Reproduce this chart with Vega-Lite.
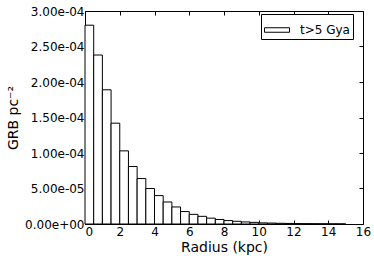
{
  "$schema": "https://vega.github.io/schema/vega-lite/v6.json",
  "width": 278,
  "height": 213,
  "autosize": {"type": "none"},
  "padding": {"left": 85, "top": 11, "right": 11, "bottom": 36},
  "background": "white",
  "config": {
    "view": {"stroke": "black", "strokeWidth": 1},
    "font": "DejaVu Sans",
    "axis": {
      "grid": false,
      "domain": false,
      "tickColor": "black",
      "tickSize": -4,
      "tickWidth": 1,
      "labelColor": "black",
      "labelFont": "DejaVu Sans",
      "labelFontSize": 12,
      "titleFont": "DejaVu Sans",
      "titleFontSize": 14,
      "titleFontWeight": "normal",
      "titleColor": "black"
    }
  },
  "data": {
    "values": [
      {"r0": 0.0, "r1": 0.5, "v": 2.80e-4, "series": "t>5 Gya"},
      {"r0": 0.5, "r1": 1.0, "v": 2.38e-4, "series": "t>5 Gya"},
      {"r0": 1.0, "r1": 1.5, "v": 1.89e-4, "series": "t>5 Gya"},
      {"r0": 1.5, "r1": 2.0, "v": 1.42e-4, "series": "t>5 Gya"},
      {"r0": 2.0, "r1": 2.5, "v": 1.03e-4, "series": "t>5 Gya"},
      {"r0": 2.5, "r1": 3.0, "v": 0.81e-4, "series": "t>5 Gya"},
      {"r0": 3.0, "r1": 3.5, "v": 0.64e-4, "series": "t>5 Gya"},
      {"r0": 3.5, "r1": 4.0, "v": 0.50e-4, "series": "t>5 Gya"},
      {"r0": 4.0, "r1": 4.5, "v": 0.40e-4, "series": "t>5 Gya"},
      {"r0": 4.5, "r1": 5.0, "v": 0.31e-4, "series": "t>5 Gya"},
      {"r0": 5.0, "r1": 5.5, "v": 0.24e-4, "series": "t>5 Gya"},
      {"r0": 5.5, "r1": 6.0, "v": 0.175e-4, "series": "t>5 Gya"},
      {"r0": 6.0, "r1": 6.5, "v": 0.136e-4, "series": "t>5 Gya"},
      {"r0": 6.5, "r1": 7.0, "v": 0.108e-4, "series": "t>5 Gya"},
      {"r0": 7.0, "r1": 7.5, "v": 0.082e-4, "series": "t>5 Gya"},
      {"r0": 7.5, "r1": 8.0, "v": 0.064e-4, "series": "t>5 Gya"},
      {"r0": 8.0, "r1": 8.5, "v": 0.048e-4, "series": "t>5 Gya"},
      {"r0": 8.5, "r1": 9.0, "v": 0.038e-4, "series": "t>5 Gya"},
      {"r0": 9.0, "r1": 9.5, "v": 0.029e-4, "series": "t>5 Gya"},
      {"r0": 9.5, "r1": 10.0, "v": 0.023e-4, "series": "t>5 Gya"},
      {"r0": 10.0, "r1": 10.5, "v": 0.016e-4, "series": "t>5 Gya"},
      {"r0": 10.5, "r1": 11.0, "v": 0.013e-4, "series": "t>5 Gya"},
      {"r0": 11.0, "r1": 11.5, "v": 0.010e-4, "series": "t>5 Gya"},
      {"r0": 11.5, "r1": 12.0, "v": 0.008e-4, "series": "t>5 Gya"},
      {"r0": 12.0, "r1": 12.5, "v": 0.006e-4, "series": "t>5 Gya"},
      {"r0": 12.5, "r1": 13.0, "v": 0.005e-4, "series": "t>5 Gya"},
      {"r0": 13.0, "r1": 13.5, "v": 0.004e-4, "series": "t>5 Gya"},
      {"r0": 13.5, "r1": 14.0, "v": 0.003e-4, "series": "t>5 Gya"},
      {"r0": 14.0, "r1": 14.5, "v": 0.002e-4, "series": "t>5 Gya"},
      {"r0": 14.5, "r1": 15.0, "v": 0.0015e-4, "series": "t>5 Gya"}
    ]
  },
  "layer": [
    {
      "mark": {"type": "bar", "stroke": "black", "strokeWidth": 1, "fillOpacity": 1},
      "encoding": {
        "x": {
          "field": "r0", "type": "quantitative",
          "scale": {"domain": [0, 16], "nice": false, "zero": false},
          "axis": {"orient": "bottom", "values": [0, 2, 4, 6, 8, 10, 12, 14, 16], "format": "d", "labelPadding": 6, "title": "Radius (kpc)", "titlePadding": 3, "labelFlush": false, "titleColor": "black", "labelAlign": {"condition": {"test": "datum.value == 0", "value": "left"}, "value": "center"}}
        },
        "x2": {"field": "r1"},
        "y": {
          "field": "v", "type": "quantitative", "stack": null,
          "scale": {"domain": [0, 0.0003], "nice": false},
          "axis": {"orient": "left", "values": [0, 0.00005, 0.0001, 0.00015, 0.0002, 0.00025, 0.0003], "labelExpr": "replace(replace(format(datum.value, '.2e'), 'e-', 'e-0'), 'e+', 'e+0')", "labelPadding": 5, "title": "GRB pc⁻²", "titlePadding": 4, "labelFlush": false, "titleColor": "black"}
        },
        "y2": {"datum": 0},
        "fill": {
          "field": "series", "type": "nominal",
          "scale": {"range": ["white"]},
          "legend": {
            "title": null,
            "orient": "none",
            "legendX": 176,
            "legendY": 3,
            "strokeColor": "black",
            "fillColor": "white",
            "padding": 3,
            "symbolType": "M-1,-0.18L1,-0.18L1,0.18L-1,0.18Z",
            "symbolSize": 625,
            "symbolStrokeColor": "black",
            "symbolStrokeWidth": 1,
            "labelFontSize": 12,
            "labelFont": "DejaVu Sans",
            "labelColor": "black",
            "labelOffset": 10
          }
        }
      }
    },
    {
      "mark": {"type": "point", "opacity": 0},
      "encoding": {
        "x": {
          "field": "r0", "type": "quantitative",
          "axis": {"orient": "top", "values": [0, 2, 4, 6, 8, 10, 12, 14, 16], "labels": false, "title": null}
        },
        "y": {
          "field": "v", "type": "quantitative",
          "axis": {"orient": "right", "values": [0, 0.00005, 0.0001, 0.00015, 0.0002, 0.00025, 0.0003], "labels": false, "title": null}
        }
      }
    }
  ],
  "resolve": {"axis": {"x": "independent", "y": "independent"}}
}
